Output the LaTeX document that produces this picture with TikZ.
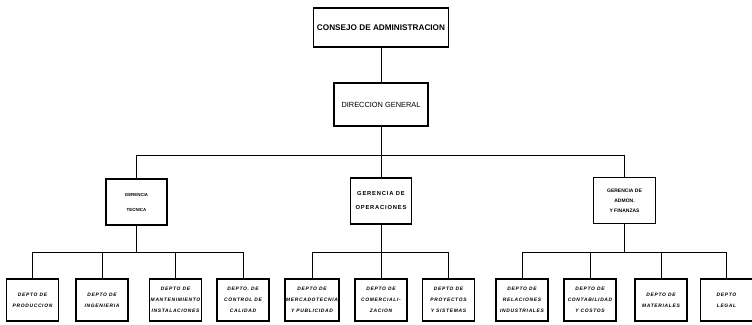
\documentclass[tikz,border=0pt]{standalone}
\usepackage{fontspec}
\setmainfont{Liberation Sans}
\newfontfamily\deptfont[LetterSpace=14]{Liberation Sans}
\usetikzlibrary{positioning, calc}

\begin{document}
\begin{tikzpicture}[
  x=1pt,y=-1pt,
  unidad/.style={
    rectangle, draw=black, line width=1.3pt, fill=white,
    align=center, inner sep=1pt
  },
  gerencia/.style={
    unidad, minimum width=61pt, minimum height=46pt,
    font=\deptfont\fontsize{5.8}{14}\selectfont\bfseries
  },
  depto/.style={
    unidad, minimum width=52pt, minimum height=42pt,
    font=\deptfont\fontsize{4.9}{11}\selectfont\bfseries\itshape
  },
  linea/.style={line width=0.8pt, draw=black}
]
\useasboundingbox (0,0) rectangle (752,324);

% ---- direccion ----
\node[unidad, minimum width=135pt, minimum height=39pt, font=\fontsize{8.2}{9}\selectfont\bfseries]
      (consejo)   at (381, 27.5) {CONSEJO DE ADMINISTRACION};
\node[unidad, minimum width=94pt, minimum height=43pt, font=\fontsize{7.4}{9}\selectfont]
      (direccion) at (381, 104.5) {DIRECCION GENERAL};

% ---- gerencias ----
\node[gerencia, font=\fontsize{4.4}{15}\selectfont\bfseries] (tecnica) at (136.5, 202) {GERENCIA\\TECNICA};
\node[gerencia]                                             (operaciones) at (381, 201) {GERENCIA DE\\OPERACIONES};
\node[gerencia, minimum width=62pt, font=\fontsize{5}{10}\selectfont\bfseries]
      (admon) at (624.5, 200.5) {GERENCIA DE\\ADMON.\\Y FINANZAS};

% ---- departamentos ----
\node[depto] (produccion)    at (32.5, 300)  {DEPTO DE\\PRODUCCION};
\node[depto] (ingenieria)    at (102, 300)   {DEPTO DE\\INGENIERIA};
\node[depto] (mantenimiento) at (175.5, 300) {DEPTO DE\\MANTENIMIENTO\\INSTALACIONES};
\node[depto] (calidad)       at (243, 300)   {DEPTO. DE\\CONTROL DE\\CALIDAD};

\node[depto] (mercadotecnia) at (312, 300)   {DEPTO DE\\MERCADOTECNIA\\Y PUBLICIDAD};
\node[depto] (comercial)     at (381, 300)   {DEPTO DE\\COMERCIALI-\\ZACION};
\node[depto] (proyectos)     at (448.5, 300) {DEPTO DE\\PROYECTOS\\Y SISTEMAS};

\node[depto] (relaciones)    at (522, 300)   {DEPTO DE\\RELACIONES\\INDUSTRIALES};
\node[depto] (contabilidad)  at (590, 300)   {DEPTO DE\\CONTABILIDAD\\Y COSTOS};
\node[depto] (materiales)    at (661, 300)   {DEPTO DE\\MATERIALES};
\node[depto] (legal)         at (726.5, 300) {DEPTO\\LEGAL};

% ---- buses horizontales ----
\coordinate (B0) at (381, 155);
\coordinate (B1) at (136.5, 252);
\coordinate (B2) at (381, 252);
\coordinate (B3) at (624.5, 252);

% ---- conectores ----
\draw[linea] (consejo) -- (direccion);
\draw[linea] (direccion.south) -- (B0) -| (tecnica.north);
\draw[linea] (B0) -| (admon.north);
\draw[linea] (B0) -- (operaciones.north);

\draw[linea] (tecnica.south) -- (B1);
\draw[linea] (B1) -| (produccion.north);
\draw[linea] (B1) -| (ingenieria.north);
\draw[linea] (B1) -| (mantenimiento.north);
\draw[linea] (B1) -| (calidad.north);

\draw[linea] (operaciones.south) -- (comercial.north);
\draw[linea] (B2) -| (mercadotecnia.north);
\draw[linea] (B2) -| (proyectos.north);

\draw[linea] (admon.south) -- (B3);
\draw[linea] (B3) -| (relaciones.north);
\draw[linea] (B3) -| (contabilidad.north);
\draw[linea] (B3) -| (materiales.north);
\draw[linea] (B3) -| (legal.north);

\end{tikzpicture}
\end{document}
